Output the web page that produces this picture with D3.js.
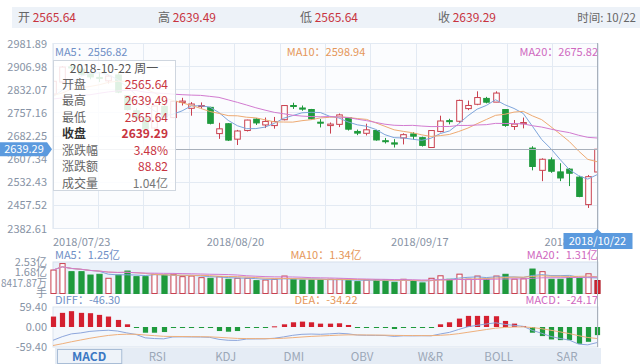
<!DOCTYPE html>
<html>
<head>
<meta charset="UTF-8">
<style>
  body { margin: 0; background: #fff; }
  svg { display: block; font-family: "Noto Sans CJK SC", "Noto Sans", sans-serif; }
  .ax { fill: #8793a5; font-size: 11px; }
  .grid line { stroke: #e3eaf3; stroke-width: 1; shape-rendering: crispEdges; }
</style>
</head>
<body>
<svg id="chart" width="640" height="364"></svg>
<script src="https://d3js.org/d3.v7.min.js"></script>
<script>

// ---- data (SSE composite, daily) ----
const dates = ["2018-07-23","2018-07-24","2018-07-25","2018-07-26","2018-07-27",
  "2018-07-30","2018-07-31","2018-08-01","2018-08-02","2018-08-03",
  "2018-08-06","2018-08-07","2018-08-08","2018-08-09","2018-08-10",
  "2018-08-13","2018-08-14","2018-08-15","2018-08-16","2018-08-17",
  "2018-08-20","2018-08-21","2018-08-22","2018-08-23","2018-08-24",
  "2018-08-27","2018-08-28","2018-08-29","2018-08-30","2018-08-31",
  "2018-09-03","2018-09-04","2018-09-05","2018-09-06","2018-09-07",
  "2018-09-10","2018-09-11","2018-09-12","2018-09-13","2018-09-14",
  "2018-09-17","2018-09-18","2018-09-19","2018-09-20","2018-09-21",
  "2018-09-25","2018-09-26","2018-09-27","2018-09-28",
  "2018-10-08","2018-10-09","2018-10-10","2018-10-11","2018-10-12",
  "2018-10-15","2018-10-16","2018-10-17","2018-10-18","2018-10-19","2018-10-22"];

const opens = [2818,2857,2906,2899,2886, 2872,2861,2880,2813,2764,
  2739,2708,2778,2742,2791, 2772,2778,2775,2690,2722,
  2672,2700,2737,2718,2716, 2735,2781,2773,2768,2727,
  2716,2720,2742,2697,2691, 2700,2667,2660,2676,2689,
  2677,2645,2697,2732,2730, 2771,2785,2804,2792,
  2768,2713,2722,2643,2571, 2605,2566,2575,2549,2460,2565.64];
const closes = [2859.54,2905.56,2903.65,2882.23,2873.59, 2869.05,2876.40,2824.53,2768.02,2740.44,
  2705.16,2779.37,2744.07,2794.38,2795.31, 2785.87,2780.96,2723.26,2705.50,2668.97,
  2698.47,2733.88,2724.62,2729.43,2729.24, 2780.90,2777.98,2769.30,2737.74,2725.25,
  2720.73,2750.58,2704.34,2691.59,2702.30, 2669.48,2664.80,2656.11,2686.58,2681.64,
  2651.79,2699.95,2730.85,2729.24,2797.49, 2781.14,2806.81,2791.77,2821.35,
  2716.51,2721.01,2725.84,2583.46,2606.91, 2568.10,2546.33,2561.61,2486.42,2550.47,2639.29];
const highs = [2864,2909,2915.9,2912,2893, 2889,2880,2888,2815,2772,
  2745,2781,2785,2795,2806, 2792,2791,2777,2725,2724,
  2702,2735,2740,2742,2744, 2782,2790,2781,2770,2737,
  2726,2755,2743,2703,2722, 2702,2676,2672,2691,2695,
  2680,2701,2748,2738,2800, 2797,2827,2809,2827,
  2769,2734,2742,2649,2610, 2613,2594,2578,2553,2556,2639.49];
const lows = [2808,2851,2888,2878,2866, 2857,2852,2821,2765,2731,
  2701,2703,2740,2740,2781, 2748,2770,2720,2673,2666,
  2653,2697,2718,2708,2706, 2733,2770,2764,2735,2710,
  2690,2711,2700,2685,2684, 2667,2658,2645,2655,2670,
  2648,2644,2694,2720,2725, 2766,2782,2788,2792,
  2712,2702,2707,2571,2536, 2563,2536,2520,2484,2449.2,2565.64];
// 20 closes before 07-23, used for the moving averages
const preCloses = [2859.34,2844.51,2813.18,2786.90,2847.42,2775.56,2786.89,2759.13,2733.88,2747.23,
  2815.11,2827.63,2777.77,2837.66,2831.18,2814.04,2798.13,2787.26,2772.55,2829.27];

// volume, in 亿
const volumes = [1.88,2.40,1.75,1.75,1.48, 1.54,1.22,1.48,1.80,1.35,
  1.35,1.54,1.48,1.54,1.35, 1.40,1.27,1.22,1.35,1.14,
  1.22,1.22,1.03,1.08,1.14, 1.40,1.14,1.08,1.08,1.08,
  1.14,1.14,1.03,0.95,1.08, 1.08,1.08,0.90,1.14,1.03,
  0.85,1.22,1.42,1.14,1.55, 1.15,1.40,1.15,1.40,
  1.54,1.15,1.18,1.96,1.75, 1.14,1.14,1.27,1.22,1.58,1.04];

const diffs = [-39.5,-28.7,-20.4,-17.6,-13.0,-11.0,-9.6,-12.0,-17.5,-22.1,
  -32.2,-34.3,-35.2,-29.6,-29.3,-29.6,-29.8,-30.7,-36.7,-39.4,
  -39.9,-35.8,-35.5,-35.2,-33.4,-29.4,-24.7,-21.7,-20.9,-21.7,
  -20.4,-18.6,-20.3,-23.9,-24.7,-24.9,-25.2,-27.9,-26.2,-26.4,
  -26.0,-26.2,-20.7,-15.9,-7.3,0.8,4.9,9.0,12.5,7.8,
  5.0,1.9,-10.2,-18.6,-28.2,-34.1,-39.0,-50.8,-53.0,-46.3];
const deas = [-55.0,-49.7,-43.9,-38.6,-33.5,-29.0,-25.1,-22.5,-21.5,-21.6,
  -23.7,-25.8,-27.7,-28.1,-28.3,-28.6,-28.8,-29.2,-30.7,-32.4,
  -33.9,-34.3,-34.5,-34.7,-34.4,-33.4,-31.7,-29.7,-27.9,-26.7,
  -25.4,-24.1,-23.3,-23.4,-23.7,-23.9,-24.2,-24.9,-25.2,-25.4,
  -25.5,-25.7,-24.7,-22.9,-19.8,-15.7,-11.6,-7.5,-3.5,-1.3,
  0.0,0.4,-1.7,-5.1,-9.7,-14.6,-19.5,-25.8,-31.2,-34.2];
const macdBars = [31,42,47,42,41,36,31,21,8,-1,
  -17,-17,-15,-3,-2,-2,-2,-3,-12,-14,
  -12,-3,-2,-1,2,8,14,16,14,10,
  10,11,6,-1,-2,-2,-2,-6,-2,-2,
  -1,-1,8,14,25,33,33,33,32,18,
  10,3,-17,-27,-37,-39,-39,-50,-44,-24.17];

const priceTicks = ["2382.61","2457.52","2532.43","2607.34","2682.25","2757.16","2832.07","2906.98","2981.89"];
const volTicks = [0, 0.8418, 1.6836, 2.5254];
const volTickLabels = ["手", "8417.87万", "1.68亿", "2.53亿"];
const macdTicks = [-59.4, 0, 59.4];
const macdTickLabels = ["-59.40", "0.00", "59.40"];
const dateLabels = ["2018/07/23", "2018/08/20", "2018/09/17", "2018/10/22"];

const infoLabels = ["开", "高", "低", "收"];
const infoValues = ["2565.64", "2639.49", "2565.64", "2639.29"];
const tipLabels = ["开盘", "最高", "最低", "收盘", "涨跌幅", "涨跌额", "成交量"];
const tipValues = ["2565.64", "2639.49", "2565.64", "2639.29", "3.48%", "88.82", "1.04亿"];
const maNames = ["MA5", "MA10", "MA20"];
const maValues = ["2556.82", "2598.94", "2675.82"];
const volMaValues = ["1.25亿", "1.34亿", "1.31亿"];
const macdNames = ["DIFF", "DEA", "MACD"];
const macdValues = ["-46.30", "-34.22", "-24.17"];
const tabs = ["MACD", "RSI", "KDJ", "DMI", "OBV", "W&R", "BOLL", "SAR"];

// ---- layout ----
const left = 53, right = 598;
const UP = "#c9404f", DOWN = "#1f9a3d";
const maColors = ["#7ea5db", "#eeaa72", "#d27bd0"];
const labelColors = ["#6f8fc6", "#e5975a", "#cf68c0"];

const svg = d3.select("#chart");

const x = d3.scalePoint().domain(dates).range([left, right - 1]);
const yP = d3.scaleLinear().domain([+priceTicks[0], +priceTicks[8]]).range([228.5, 43.5]);
const yV = d3.scaleLinear().domain([0, 2.5254]).range([293.5, 262]);
const yM = d3.scaleLinear().domain([-59.4, 59.4]).range([347, 307]);

// moving averages from the closes
const allCloses = preCloses.concat(closes);
function ma(n) {
  return closes.map((c, i) => d3.mean(allCloses.slice(i + 21 - n, i + 21)));
}
function volMa(n) {
  return volumes.map((v, i) => d3.mean(volumes.slice(Math.max(0, i - n + 1), i + 1)));
}

// top info bar
svg.append("rect").attr("x", 12).attr("y", 7).attr("width", 628).attr("height", 21).attr("fill", "#edf2f8");
const infoX = [18, 158, 300, 438];
infoLabels.forEach((l, i) => {
  let t = svg.append("text").attr("x", infoX[i]).attr("y", 22).attr("font-size", 12);
  t.append("tspan").attr("fill", "#666").text(l + " ");
  t.append("tspan").attr("fill", "#c8343f").text(infoValues[i]);
});
svg.append("text").attr("x", 636).attr("y", 22).attr("font-size", 11.5).attr("text-anchor", "end")
  .attr("fill", "#666").text("时间: 10/22");

// main plot background + grid
svg.append("rect").attr("x", left).attr("y", 43.5).attr("width", right - left).attr("height", 185)
  .attr("fill", "#fbfcfe").attr("stroke", "#dbe3ee");
let g = svg.append("g").attr("class", "grid");
g.selectAll(".h").data(priceTicks).enter().append("line")
  .attr("x1", left).attr("x2", right).attr("y1", d => yP(+d)).attr("y2", d => yP(+d));
g.selectAll(".v").data(d3.range(13)).enter().append("line")
  .attr("x1", d => left + d * (right - left) / 12).attr("x2", d => left + d * (right - left) / 12)
  .attr("y1", 43.5).attr("y2", 228.5);

svg.selectAll(".ptick").data(priceTicks).enter().append("text").attr("class", "ax")
  .attr("x", 47).attr("y", d => yP(+d) + 4).attr("text-anchor", "end").text(d => d);

svg.append("clipPath").attr("id", "clipMain").append("rect")
  .attr("x", left).attr("y", 43).attr("width", right - left).attr("height", 186);

// candles
let cg = svg.append("g").attr("clip-path", "url(#clipMain)");
const bw = 5.6;
let candles = cg.selectAll(".c").data(dates).enter().append("g");
candles.append("line")
  .attr("x1", d => Math.round(x(d)) + 0.5).attr("x2", d => Math.round(x(d)) + 0.5)
  .attr("y1", (d, i) => yP(highs[i])).attr("y2", (d, i) => yP(lows[i]))
  .attr("stroke", (d, i) => closes[i] >= opens[i] ? UP : DOWN).attr("stroke-width", 1);
candles.append("rect")
  .attr("x", d => Math.round(x(d)) + 0.5 - bw / 2)
  .attr("y", (d, i) => yP(Math.max(opens[i], closes[i])))
  .attr("width", bw)
  .attr("height", (d, i) => Math.max(1, Math.abs(yP(opens[i]) - yP(closes[i]))))
  .attr("fill", (d, i) => closes[i] >= opens[i] ? "#fff" : DOWN)
  .attr("stroke", (d, i) => closes[i] >= opens[i] ? UP : DOWN).attr("stroke-width", 1);

// MA lines
[5, 10, 20].forEach((n, k) => {
  cg.append("path").datum(ma(n))
    .attr("fill", "none").attr("stroke", maColors[k]).attr("stroke-width", 1)
    .attr("d", d3.line().x((d, i) => x(dates[i])).y(d => yP(d)));
});

// MA header
const hdrX = [55, 326, 598], hdrAnchor = ["start", "middle", "end"];
maNames.forEach((m, k) => {
  svg.append("text").attr("x", hdrX[k]).attr("y", 56).attr("font-size", 11)
    .attr("text-anchor", hdrAnchor[k]).attr("fill", labelColors[k]).text(m + "：" + maValues[k]);
});

// date labels
const dateIdx = [0, 20, 40, 59], dateAnchor = ["start", "middle", "middle", "end"];
dateLabels.forEach((l, k) => {
  let px = k == 0 ? left : (k == 3 ? right + 4 : x(dates[dateIdx[k]]) - 2);
  svg.append("text").attr("class", "ax").attr("font-size", 10.5).attr("x", px).attr("y", 246)
    .attr("text-anchor", dateAnchor[k]).text(l);
});

// volume panel
svg.append("rect").attr("x", left).attr("y", 262).attr("width", right - left).attr("height", 31.5)
  .attr("fill", "#eaf1fa").attr("stroke", "#d6dfeb");
svg.selectAll(".vtick").data(volTicks).enter().append("text").attr("class", "ax")
  .attr("x", 47).attr("y", d => yV(d) + 3.5).attr("text-anchor", "end")
  .attr("font-size", 10)
  .attr("textLength", (d, i) => i == 1 ? 46 : null)
  .attr("lengthAdjust", "spacingAndGlyphs")
  .text((d, i) => volTickLabels[i]);
let vg = svg.append("g");
vg.selectAll("rect").data(volumes).enter().append("rect")
  .attr("x", (d, i) => Math.round(x(dates[i])) + 0.5 - 2.6)
  .attr("y", d => yV(d)).attr("width", 5.2).attr("height", d => yV(0) - yV(d))
  .attr("fill", (d, i) => i == 59 ? "#d42a35" : (closes[i] >= opens[i] ? "#fff" : DOWN))
  .attr("stroke", (d, i) => i == 59 ? "#b01e2a" : (closes[i] >= opens[i] ? UP : DOWN))
  .attr("stroke-width", 1);
[5, 10, 20].forEach((n, k) => {
  vg.append("path").datum(volMa(n))
    .attr("fill", "none").attr("stroke", maColors[k]).attr("stroke-width", 1)
    .attr("d", d3.line().x((d, i) => x(dates[i])).y(d => yV(d)));
});
maNames.forEach((m, k) => {
  svg.append("text").attr("x", hdrX[k]).attr("y", 259).attr("font-size", 11)
    .attr("text-anchor", hdrAnchor[k]).attr("fill", labelColors[k]).text(m + "：" + volMaValues[k]);
});

// MACD panel
svg.append("rect").attr("x", left).attr("y", 307).attr("width", right - left).attr("height", 40)
  .attr("fill", "#f3f7fc").attr("stroke", "#dbe3ee");
svg.selectAll(".mtick").data(macdTicks).enter().append("text").attr("class", "ax")
  .attr("x", 47).attr("y", d => yM(d) + 4).attr("text-anchor", "end")
  .text((d, i) => macdTickLabels[i]);
let mg = svg.append("g");
mg.selectAll("rect").data(macdBars).enter().append("rect")
  .attr("x", (d, i) => Math.round(x(dates[i])) + 0.5 - 2.6)
  .attr("y", d => d >= 0 ? yM(d) : yM(0))
  .attr("width", 5.2)
  .attr("height", d => Math.max(1, Math.abs(yM(d) - yM(0))))
  .attr("fill", d => d >= 0 ? "#d42030" : DOWN);
[diffs, deas].forEach((s, k) => {
  mg.append("path").datum(s)
    .attr("fill", "none").attr("stroke", k == 0 ? "#8da6dc" : "#efb07c").attr("stroke-width", 1)
    .attr("d", d3.line().x((d, i) => x(dates[i])).y(d => yM(d)));
});
const macdColors = ["#6f8fc6", "#e5975a", "#cf68c0"];
macdNames.forEach((m, k) => {
  svg.append("text").attr("x", hdrX[k]).attr("y", 304).attr("font-size", 11)
    .attr("text-anchor", hdrAnchor[k]).attr("fill", macdColors[k]).text(m + "：" + macdValues[k]);
});

// tabs
const tabW = 68.25;
svg.append("rect").attr("x", 55).attr("y", 348).attr("width", tabW * 8).attr("height", 16).attr("fill", "#e5ecf5");
svg.append("rect").attr("x", 57.5).attr("y", 349.5).attr("width", tabW - 4).attr("height", 14)
  .attr("fill", "#eef3f9").attr("stroke", "#a9bdd6");
svg.selectAll(".tab").data(tabs).enter().append("text")
  .attr("x", (d, i) => 55 + tabW * (i + 0.5)).attr("y", 360.5).attr("text-anchor", "middle")
  .attr("font-size", (d, i) => i == 0 ? 12 : 11.5)
  .attr("font-weight", (d, i) => i == 0 ? "bold" : "normal")
  .attr("fill", (d, i) => i == 0 ? "#3b78c3" : "#9ba7b7")
  .text(d => d);

// crosshair
const cx = Math.round(x(dates[59])) + 0.5, cy = yP(closes[59]);
svg.append("line").attr("x1", cx).attr("x2", cx).attr("y1", 43).attr("y2", 347)
  .attr("stroke", "#a8b0bb").attr("stroke-width", 1);
svg.append("line").attr("x1", left).attr("x2", right).attr("y1", Math.round(cy) + 0.5).attr("y2", Math.round(cy) + 0.5)
  .attr("stroke", "#a8b0bb").attr("stroke-width", 1);
svg.append("path").attr("fill", "#5b9ade")
  .attr("d", `M0,${cy - 7}H47L52,${cy}L47,${cy + 7}H0Z`);
svg.append("text").attr("x", 24).attr("y", cy + 4).attr("text-anchor", "middle")
  .attr("font-size", 11).attr("fill", "#fff").text(closes[59].toFixed(2));
svg.append("path").attr("fill", "#5b9ade")
  .attr("d", `M${cx - 34},233H${cx - 4}L${cx},229L${cx + 4},233H${cx + 35}V249H${cx - 34}Z`);
svg.append("text").attr("x", cx).attr("y", 245).attr("text-anchor", "middle")
  .attr("font-size", 11).attr("fill", "#fff").text(dateLabels[3]);

// tooltip
let tip = svg.append("g");
tip.append("rect").attr("x", 53.5).attr("y", 60.5).attr("width", 122).attr("height", 130)
  .attr("fill", "#fff").attr("fill-opacity", 0.86).attr("stroke", "#cfd6df");
tip.append("text").attr("x", 114).attr("y", 73).attr("text-anchor", "middle")
  .attr("font-size", 12).attr("fill", "#555").text("2018-10-22 周一");
tipLabels.forEach((l, i) => {
  let yy = 88.5 + i * 16.5;
  tip.append("text").attr("x", 62).attr("y", yy).attr("font-size", 12)
    .attr("fill", i == 3 ? "#333" : "#666").attr("font-weight", i == 3 ? "bold" : "normal").text(l);
  tip.append("text").attr("x", 168).attr("y", yy).attr("text-anchor", "end").attr("font-size", 12)
    .attr("fill", i == 6 ? "#777" : "#c8343f").attr("font-weight", i == 3 ? "bold" : "normal").text(tipValues[i]);
});

</script>
</body>
</html>
